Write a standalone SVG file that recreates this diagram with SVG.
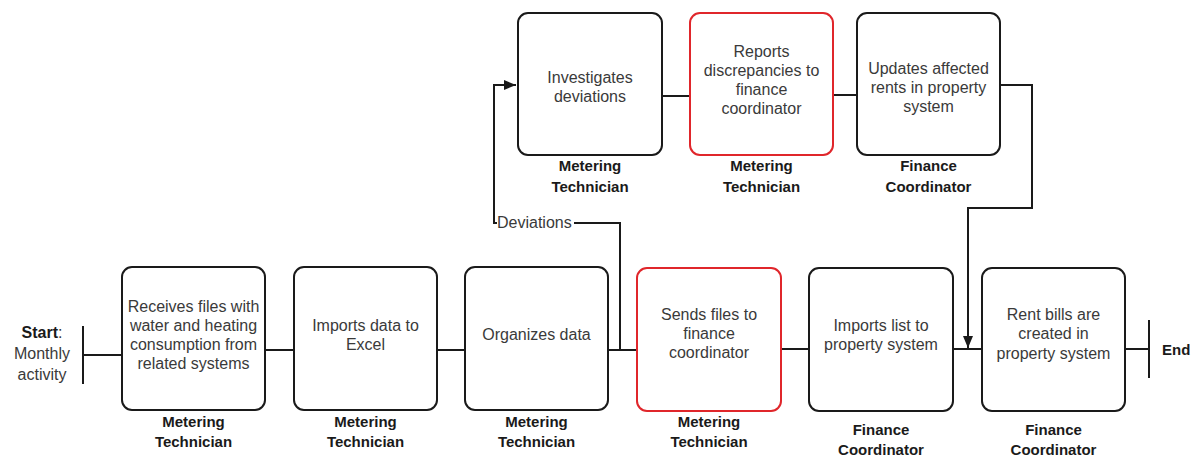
<svg xmlns="http://www.w3.org/2000/svg" width="1195" height="459" viewBox="0 0 1195 459">
<defs>
<style>
.box{fill:#fff;stroke:#1a1a1a;stroke-width:2}
.red{stroke:#e0262b}
.t{font-family:"Liberation Sans",Arial,sans-serif;font-size:16px;fill:#3a3a3a;text-anchor:middle}
.b{font-family:"Liberation Sans",Arial,sans-serif;font-size:15px;font-weight:bold;fill:#1a1a1a;text-anchor:middle}
.c{fill:none;stroke:#1a1a1a;stroke-width:2}
</style>
<marker id="ah" viewBox="0 0 12 10" refX="12" refY="5" markerWidth="12" markerHeight="10" markerUnits="userSpaceOnUse" orient="auto">
<path d="M0,0 L12,5 L0,10 Z" fill="#1a1a1a"/>
</marker>
</defs>
<rect width="1195" height="459" fill="#fff"/>
<g id="connectors">
<path class="c" d="M83,355 H122"/>
<path class="c" d="M265,350 H294"/>
<path class="c" d="M437,350 H465"/>
<path class="c" d="M608,350 H637"/>
<path class="c" d="M781,349 H809"/>
<path class="c" d="M953,349 H982"/>
<path class="c" d="M1125,349 H1149"/>
<path class="c" d="M662,96 H690"/>
<path class="c" d="M833,95 H857"/>
<path class="c" d="M620,350 V223 H494 V85 H516" marker-end="url(#ah)"/>
<rect x="497" y="214" width="77" height="18" fill="#fff"/>
<text x="497" y="228" class="t" style="text-anchor:start">Deviations</text>
<path class="c" d="M1000,85 H1032 V208 H968 V348" marker-end="url(#ah)"/>
</g>
<g id="start">
<path class="c" d="M83,326 V384"/>
<text x="42" y="338" class="t"><tspan font-weight="bold" fill="#1a1a1a">Start</tspan>:</text>
<text x="42" y="359" class="t">Monthly</text>
<text x="42" y="380" class="t">activity</text>
</g>
<g id="end">
<path class="c" d="M1149,320 V378"/>
<text x="1162" y="355" class="b" style="text-anchor:start">End</text>
</g>
<g id="n1">
<rect class="box" x="122" y="267" width="143" height="143" rx="10"/>
<text x="193.5" y="312" class="t">Receives files with</text>
<text x="193.5" y="331" class="t">water and heating</text>
<text x="193.5" y="350" class="t">consumption from</text>
<text x="193.5" y="369" class="t">related systems</text>
<text x="193.5" y="427" class="b">Metering</text>
<text x="193.5" y="447" class="b">Technician</text>
</g>
<g id="n2">
<rect class="box" x="294" y="267" width="143" height="143" rx="10"/>
<text x="365.5" y="331" class="t">Imports data to</text>
<text x="365.5" y="350" class="t">Excel</text>
<text x="365.5" y="427" class="b">Metering</text>
<text x="365.5" y="447" class="b">Technician</text>
</g>
<g id="n3">
<rect class="box" x="465" y="267" width="143" height="143" rx="10"/>
<text x="536.5" y="340" class="t">Organizes data</text>
<text x="536.5" y="427" class="b">Metering</text>
<text x="536.5" y="447" class="b">Technician</text>
</g>
<g id="n4">
<rect class="box red" x="637" y="268" width="144" height="143" rx="10"/>
<text x="709" y="320" class="t">Sends files to</text>
<text x="709" y="339" class="t">finance</text>
<text x="709" y="358" class="t">coordinator</text>
<text x="709" y="427" class="b">Metering</text>
<text x="709" y="447" class="b">Technician</text>
</g>
<g id="n5">
<rect class="box" x="809" y="268" width="144" height="143" rx="10"/>
<text x="881" y="331" class="t">Imports list to</text>
<text x="881" y="350" class="t">property system</text>
<text x="881" y="435" class="b">Finance</text>
<text x="881" y="455" class="b">Coordinator</text>
</g>
<g id="n6">
<rect class="box" x="982" y="268" width="143" height="143" rx="10"/>
<text x="1053.5" y="320" class="t">Rent bills are</text>
<text x="1053.5" y="339" class="t">created in</text>
<text x="1053.5" y="359" class="t">property system</text>
<text x="1053.5" y="435" class="b">Finance</text>
<text x="1053.5" y="455" class="b">Coordinator</text>
</g>
<g id="n7">
<rect class="box" x="518" y="13" width="144" height="142" rx="10"/>
<text x="590" y="83" class="t">Investigates</text>
<text x="590" y="102" class="t">deviations</text>
<text x="590" y="171" class="b">Metering</text>
<text x="590" y="192" class="b">Technician</text>
</g>
<g id="n8">
<rect class="box red" x="690" y="13" width="143" height="142" rx="10"/>
<text x="761.5" y="57" class="t">Reports</text>
<text x="761.5" y="76" class="t">discrepancies to</text>
<text x="761.5" y="95" class="t">finance</text>
<text x="761.5" y="114" class="t">coordinator</text>
<text x="761.5" y="171" class="b">Metering</text>
<text x="761.5" y="192" class="b">Technician</text>
</g>
<g id="n9">
<rect class="box" x="857" y="13" width="143" height="142" rx="10"/>
<text x="928.5" y="74" class="t">Updates affected</text>
<text x="928.5" y="93" class="t">rents in property</text>
<text x="928.5" y="112" class="t">system</text>
<text x="928.5" y="171" class="b">Finance</text>
<text x="928.5" y="192" class="b">Coordinator</text>
</g>
</svg>
